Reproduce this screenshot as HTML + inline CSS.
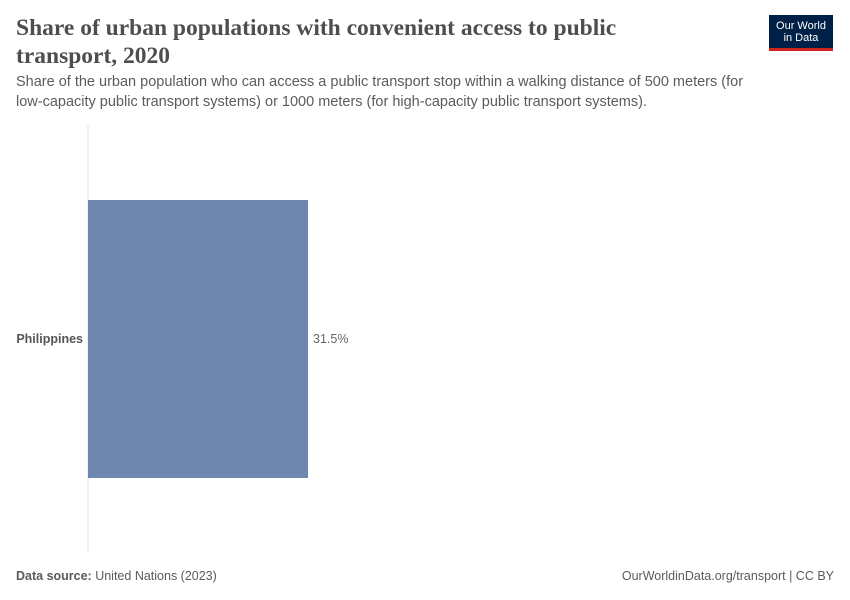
<!DOCTYPE html>
<html><head><meta charset="utf-8">
<style>
body{margin:0;width:850px;height:600px;background:#fff;font-family:"Liberation Sans",sans-serif;position:relative;overflow:hidden}
.title{position:absolute;left:16px;top:14px;width:610px;font-family:"Liberation Serif",serif;font-size:23.5px;line-height:28px;color:#4e4e4e;font-weight:bold;margin:0}
.sub{position:absolute;left:16px;top:72px;width:755px;font-size:14.5px;line-height:20px;color:#5b5b5b}
.logo{position:absolute;left:769px;top:15px;width:64px;height:36px;background:#002147;border-bottom:3px solid #ce261e;box-sizing:border-box;color:#fff;font-size:11px;line-height:12px;text-align:center;padding-top:5px}
.foot{position:absolute;top:569px;font-size:12.5px;color:#5b5b5b}
</style></head><body>
<h1 class="title">Share of urban populations with convenient access to public transport, 2020</h1>
<div class="sub">Share of the urban population who can access a public transport stop within a walking distance of 500 meters (for low-capacity public transport systems) or 1000 meters (for high-capacity public transport systems).</div>
<div class="logo">Our World<br>in Data</div>
<svg id="chart" width="850" height="600" style="position:absolute;left:0;top:0"></svg>
<div class="foot" style="left:16px"><b>Data source:</b> United Nations (2023)</div>
<div class="foot" style="right:16px">OurWorldinData.org/transport | CC BY</div>
<script>
const categories=["Philippines"];
const values=[31.5];
const valueLabels=["31.5%"];
const NS="http://www.w3.org/2000/svg";
const svg=document.getElementById("chart");
const x0=88, pxPerUnit=220/31.5;
function xScale(v){return x0+v*pxPerUnit;}
const top0=200, bandH=278, gap=0;
function yScale(i){return top0+i*(bandH+gap);}
function mk(t,a){const e=document.createElementNS(NS,t);for(const k in a)e.setAttribute(k,a[k]);svg.appendChild(e);return e;}
const ax=mk("line",{x1:x0,x2:x0,y1:126,y2:551,stroke:"#ddd","stroke-width":1});


categories.forEach((c,i)=>{
  const y=yScale(i);
  const r=mk("rect",{x:x0,y:y,width:xScale(values[i])-x0,height:bandH,fill:"#6d87ae"});
  
  
  const l=mk("text",{x:x0-5,y:y+bandH/2+4,"text-anchor":"end","font-size":"12.5","font-weight":"bold",fill:"#555","font-family":"Liberation Sans,sans-serif"});
  l.textContent=c;
  
  
  const v=mk("text",{x:xScale(values[i])+5,y:y+bandH/2+4,"font-size":"12.5",fill:"#666","font-family":"Liberation Sans,sans-serif"});
  v.textContent=valueLabels[i];
  
  
});
</script>
</body></html>
